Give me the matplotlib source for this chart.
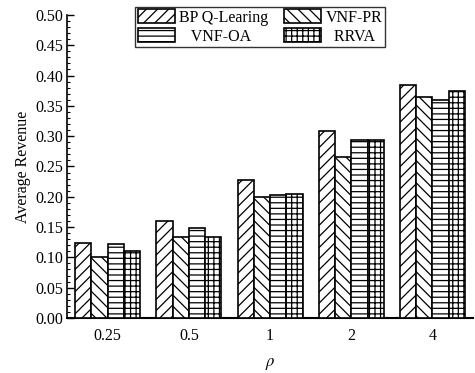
"""
Grouped hatched bar chart of average revenue against rho.
"""

import matplotlib

matplotlib.use("Agg")
import matplotlib.pyplot as plt
import numpy as np
from matplotlib.ticker import FormatStrFormatter, MultipleLocator

plt.rcParams["font.family"] = ["Liberation Serif", "DejaVu Serif"]
plt.rcParams["hatch.linewidth"] = 0.9
plt.rcParams["mathtext.fontset"] = "stix"

# data
rho_labels = ["0.25", "0.5", "1", "2", "4"]
series_names = ["BP Q-Learing", "VNF-PR", "VNF-OA", "RRVA"]
bp_qlearning = [0.124, 0.160, 0.228, 0.309, 0.384]
vnf_pr = [0.100, 0.134, 0.200, 0.265, 0.365]
vnf_oa = [0.122, 0.148, 0.203, 0.294, 0.359]
rrva = [0.111, 0.134, 0.205, 0.293, 0.374]

hatches = ["///", "\\\\\\", "---", "+++"]
bar_width = 0.2

fig = plt.figure(figsize=(4.75, 3.73), dpi=100)
ax = fig.add_axes([0.141, 0.1475, 0.855, 0.8125])

x = np.arange(len(rho_labels))
all_series = [bp_qlearning, vnf_pr, vnf_oa, rrva]
handles = []
for i, (name, values) in enumerate(zip(series_names, all_series)):
    offset = (i - 1.5) * bar_width
    bars = ax.bar(
        x + offset,
        values,
        width=bar_width,
        facecolor="white",
        edgecolor="black",
        linewidth=1.2,
        hatch=hatches[i],
        label=name,
        zorder=3,
    )
    handles.append(bars)

ax.set_xlim(-0.5, 4.5)
ax.set_ylim(0, 0.5)
ax.set_xticks(x)
ax.set_xticklabels(rho_labels)
ax.yaxis.set_major_locator(MultipleLocator(0.05))
ax.yaxis.set_minor_locator(MultipleLocator(0.01))
ax.yaxis.set_major_formatter(FormatStrFormatter("%.2f"))

ax.tick_params(axis="y", which="major", direction="in", length=5, width=1,
               labelsize=11.5, pad=3)
ax.tick_params(axis="y", which="minor", direction="in", length=2.5, width=0.8)
ax.tick_params(axis="x", length=0, labelsize=11.5, pad=7)

for side in ["top", "right"]:
    ax.spines[side].set_visible(False)
ax.spines["left"].set_linewidth(1.2)
ax.spines["bottom"].set_linewidth(1.5)

ax.set_ylabel("Average Revenue", fontsize=11.5, labelpad=3)
ax.set_xlabel(r"$\rho$", fontsize=12, labelpad=9)

# legend fills row by row in the reference: BP, VNF-PR / VNF-OA, RRVA
order = [0, 2, 1, 3]
leg_labels = ["BP Q-Learing", "   VNF-OA", "VNF-PR", "  RRVA"]
leg = ax.legend(
    [handles[k] for k in order],
    [leg_labels[k] for k in range(4)],
    ncol=2,
    loc="upper center",
    bbox_to_anchor=(0.548, 0.982),
    bbox_transform=fig.transFigure,
    fontsize=11.5,
    frameon=True,
    fancybox=False,
    edgecolor="black",
    handlelength=2.3,
    handleheight=1.0,
    handletextpad=0.3,
    columnspacing=1.0,
    labelspacing=0.15,
    borderpad=0.15,
    borderaxespad=0,
)
leg.get_frame().set_linewidth(1.0)

fig.savefig("out.png", dpi=100)
